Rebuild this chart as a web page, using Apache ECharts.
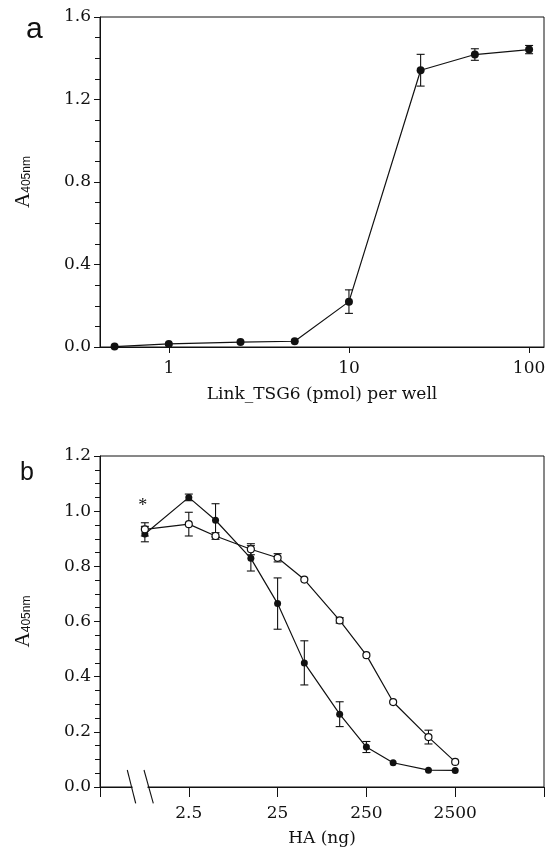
<!DOCTYPE html>
<html><head><meta charset="utf-8">
<script src="https://cdn.jsdelivr.net/npm/echarts@6/dist/echarts.min.js"></script>
<style>html,body{margin:0;padding:0;background:#fff}#c{width:550px;height:848px}</style>
</head><body><div id="c"></div>
<script>
// ---- Panel a data ----
const aDose = [0.5, 1, 2.5, 5, 10, 25, 50, 100];
const aMean = [0.002, 0.015, 0.024, 0.028, 0.22, 1.342, 1.418, 1.442];
const aErr  = [0, 0, 0, 0, 0.057, 0.077, 0.028, 0.02];
const aXTicks = [1, 10, 100];

// ---- Panel b data ----
// 0.8 = the no-HA control, drawn at the axis break
const bHA = [0.8, 2.5, 5, 12.5, 25, 50, 125, 250, 500, 1250, 2500];
const bFilled    = [0.917, 1.050, 0.967, 0.829, 0.665, 0.450, 0.264, 0.145, 0.088, 0.061, 0.060];
const bFilledErr = [0.028, 0.012, 0.060, 0.046, 0.093, 0.080, 0.045, 0.020, 0, 0, 0];
const bOpen      = [0.934, 0.953, 0.910, 0.862, 0.831, 0.752, 0.604, 0.478, 0.308, 0.181, 0.091];
const bOpenErr   = [0.024, 0.043, 0.012, 0.020, 0.015, 0, 0.010, 0, 0, 0.025, 0];
const bXTicks  = [0.25, 2.5, 25, 250, 2500, 25000];
const bXLabels = [2.5, 25, 250, 2500];

const INK = '#111';
const SERIF = '"DejaVu Serif", serif';

function triples(xs, ys, es) { return xs.map((x, i) => [x, ys[i], es[i]]); }
function pairs(xs, ys) { return xs.map((x, i) => [x, ys[i]]); }

function errRender(params, api) {
  const x = api.value(0), y = api.value(1), e = api.value(2);
  if (!e) return null;
  const top = api.coord([x, y + e]);
  const bot = api.coord([x, y - e]);
  const w = 4;
  const style = { stroke: INK, lineWidth: 1.1, fill: null };
  return { type: 'group', children: [
    { type: 'line', shape: { x1: top[0], y1: top[1], x2: bot[0], y2: bot[1] }, style },
    { type: 'line', shape: { x1: top[0] - w, y1: top[1], x2: top[0] + w, y2: top[1] }, style },
    { type: 'line', shape: { x1: bot[0] - w, y1: bot[1], x2: bot[0] + w, y2: bot[1] }, style }
  ]};
}

const labelStyle = { fontFamily: SERIF, fontSize: 17, color: INK };
const yName = {
  name: '{a|A}{s|405nm}', nameLocation: 'middle', nameRotate: 90, nameGap: 59,
  nameTextStyle: { rich: {
    a: { fontFamily: 'Liberation Serif', fontSize: 21, color: INK, padding: [0, 0, 7, 0] },
    s: { fontFamily: '"Liberation Sans Narrow", "Liberation Sans", sans-serif', fontSize: 12, color: INK }
  } }
};

function yAxis(grid, max, interval) {
  return Object.assign({
    gridIndex: grid, type: 'value', min: 0, max: max, interval: interval,
    axisLine: { show: true, lineStyle: { color: INK, width: 1 } },
    axisTick: { show: true, length: 6, lineStyle: { color: INK } },
    minorTick: { show: true, splitNumber: 4, length: 5, lineStyle: { color: INK } },
    splitLine: { show: false },
    axisLabel: Object.assign({ margin: 9, formatter: v => v.toFixed(1) }, labelStyle)
  }, yName);
}

const option = {
  animation: false,
  backgroundColor: '#fff',
  grid: [
    { left: 100, right: 6, top: 17, bottom: 501, show: true, borderColor: INK, borderWidth: 1 },
    { left: 100, right: 6, top: 456, bottom: 61, show: true, borderColor: INK, borderWidth: 1 }
  ],
  xAxis: [
    {
      gridIndex: 0, type: 'log', logBase: 10, min: 0.415, max: 121,
      axisLine: { onZero: false, lineStyle: { color: INK } },
      axisTick: { show: true, length: 6, customValues: aXTicks, lineStyle: { color: INK } },
      axisLabel: Object.assign({ customValues: aXTicks, margin: 13, formatter: v => String(v) }, labelStyle),
      splitLine: { show: false }, minorTick: { show: false },
      name: 'Link_TSG6 (pmol) per well', nameLocation: 'middle', nameGap: 39,
      nameTextStyle: { fontFamily: SERIF, fontSize: 17, color: INK }
    },
    {
      gridIndex: 1, type: 'log', logBase: 10, min: 0.25, max: 25000,
      axisLine: { onZero: false, lineStyle: { color: INK } },
      axisTick: { show: true, length: 10, customValues: bXTicks, lineStyle: { color: INK } },
      axisLabel: Object.assign({ customValues: bXLabels, margin: 18, formatter: v => String(v) }, labelStyle),
      splitLine: { show: false }, minorTick: { show: false },
      name: 'HA (ng)', nameLocation: 'middle', nameGap: 43,
      nameTextStyle: { fontFamily: SERIF, fontSize: 17, color: INK }
    }
  ],
  yAxis: [ yAxis(0, 1.6, 0.4), yAxis(1, 1.2, 0.2) ],
  series: [
    { type: 'custom', xAxisIndex: 0, yAxisIndex: 0, renderItem: errRender,
      data: triples(aDose, aMean, aErr), encode: { x: 0, y: 1 }, z: 3 },
    { type: 'line', xAxisIndex: 0, yAxisIndex: 0, data: pairs(aDose, aMean),
      symbol: 'circle', symbolSize: 8, itemStyle: { color: INK },
      lineStyle: { color: INK, width: 1.2 }, z: 4 },

    { type: 'custom', xAxisIndex: 1, yAxisIndex: 1, renderItem: errRender,
      data: triples(bHA, bOpen, bOpenErr), encode: { x: 0, y: 1 }, z: 3 },
    { type: 'custom', xAxisIndex: 1, yAxisIndex: 1, renderItem: errRender,
      data: triples(bHA, bFilled, bFilledErr), encode: { x: 0, y: 1 }, z: 3 },
    { type: 'line', xAxisIndex: 1, yAxisIndex: 1, data: pairs(bHA, bFilled),
      symbol: 'circle', symbolSize: 7, itemStyle: { color: INK },
      lineStyle: { color: INK, width: 1.2 }, z: 4 },
    { type: 'line', xAxisIndex: 1, yAxisIndex: 1, data: pairs(bHA, bOpen),
      symbol: 'circle', symbolSize: 7,
      itemStyle: { color: '#fff', borderColor: INK, borderWidth: 1.2 },
      lineStyle: { color: INK, width: 1.2 }, z: 5 }
  ],
  graphic: [
    { type: 'text', left: 26, top: 15, style: { text: 'a', fontFamily: 'Liberation Sans', fontSize: 30, fill: INK } },
    { type: 'text', left: 20, top: 461, style: { text: 'b', fontFamily: 'Liberation Sans', fontSize: 25, fill: INK } },
    { type: 'text', x: 142.7, y: 506, style: { text: '*', fontFamily: 'Liberation Serif', fontSize: 18, fill: INK, align: 'center', verticalAlign: 'middle' } },
    { type: 'rect', shape: { x: 132.5, y: 784, width: 15, height: 5 }, style: { fill: '#fff' }, z: 100 },
    { type: 'line', shape: { x1: 127.3, y1: 770, x2: 135.7, y2: 803.3 }, style: { stroke: INK, lineWidth: 1.1 }, z: 101 },
    { type: 'line', shape: { x1: 144, y1: 770, x2: 153.3, y2: 803.3 }, style: { stroke: INK, lineWidth: 1.1 }, z: 101 }
  ]
};

const chart = echarts.init(document.getElementById('c'), null, { renderer: 'canvas' });
chart.setOption(option);
</script>
</body></html>
